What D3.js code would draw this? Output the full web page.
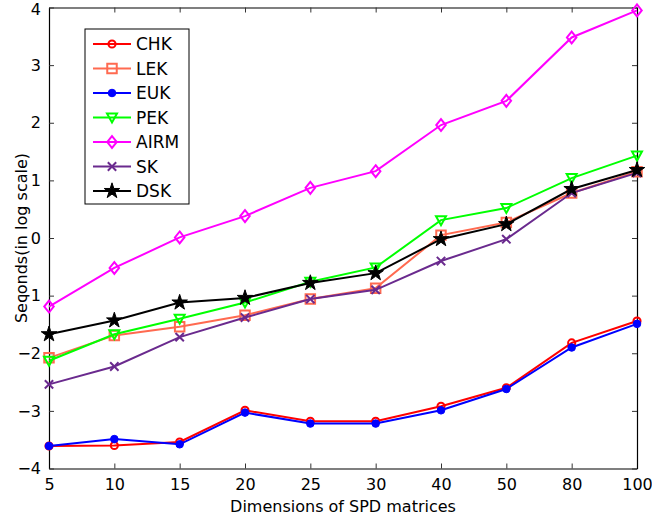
<!DOCTYPE html>
<html>
<head>
<meta charset="utf-8">
<script src="https://cdn.jsdelivr.net/npm/d3@7"></script>
<style>
  body { margin: 0; background: #fff; }
  svg { display: block; }
  text { font-family: "DejaVu Sans", sans-serif; fill: #000; }
</style>
</head>
<body>
<div id="graph"></div>
<script>
// data
const dims = ["5", "10", "15", "20", "25", "30", "40", "50", "80", "100"];
const yTicks = [-4, -3, -2, -1, 0, 1, 2, 3, 4];
const names = ["CHK", "LEK", "EUK", "PEK", "AIRM", "SK", "DSK"];
const chk  = [-3.61, -3.60, -3.54, -2.99, -3.18, -3.18, -2.92, -2.60, -1.82, -1.44];
const lek  = [-2.08, -1.69, -1.54, -1.34, -1.06, -0.87, 0.05, 0.27, 0.78, 1.15];
const euk  = [-3.61, -3.49, -3.58, -3.03, -3.22, -3.22, -2.99, -2.62, -1.90, -1.49];
const pek  = [-2.13, -1.67, -1.40, -1.12, -0.76, -0.51, 0.31, 0.52, 1.04, 1.43];
const airm = [-1.19, -0.52, 0.01, 0.38, 0.87, 1.16, 1.96, 2.38, 3.48, 3.95];
const sk   = [-2.54, -2.23, -1.72, -1.38, -1.06, -0.90, -0.40, -0.02, 0.78, 1.13];
const dsk  = [-1.67, -1.43, -1.12, -1.04, -0.78, -0.61, -0.02, 0.24, 0.85, 1.18];

const width = 652, height = 525;
const margin = {left: 49, right: 15, top: 7.5, bottom: 56.5};
const w = width - margin.left - margin.right;
const h = height - margin.top - margin.bottom;

// matlab-ish marker shapes that d3 doesn't have
const symDiamond = {
  draw(ctx, size) {
    const a = Math.sqrt(size) / 2;
    ctx.moveTo(0, -a * 1.25); ctx.lineTo(a, 0); ctx.lineTo(0, a * 1.25); ctx.lineTo(-a, 0); ctx.closePath();
  }
};
const symTimes = {
  draw(ctx, size) {
    const a = Math.sqrt(size) / 2;
    ctx.moveTo(-a, -a); ctx.lineTo(a, a); ctx.moveTo(a, -a); ctx.lineTo(-a, a);
  }
};
const symTriDown = {
  draw(ctx, size) {
    const a = Math.sqrt(size) / 2;
    ctx.moveTo(-a, -a * 0.8); ctx.lineTo(a, -a * 0.8); ctx.lineTo(0, a * 1.0); ctx.closePath();
  }
};

const series = [
  {name: names[0], values: chk,  color: "#ff0000", sym: d3.symbolCircle, size: 40,  fill: "none"},
  {name: names[1], values: lek,  color: "#ff6a50", sym: d3.symbolSquare, size: 90,  fill: "none"},
  {name: names[2], values: euk,  color: "#0000ff", sym: d3.symbolCircle, size: 45,  fill: "#0000ff"},
  {name: names[3], values: pek,  color: "#00ff00", sym: symTriDown,      size: 100, fill: "none"},
  {name: names[4], values: airm, color: "#ff00ff", sym: symDiamond,      size: 90,  fill: "none"},
  {name: names[5], values: sk,   color: "#6a2a8e", sym: symTimes,        size: 70,  fill: "none"},
  {name: names[6], values: dsk,  color: "#000000", sym: d3.symbolStar,   size: 75,  fill: "#000000"}
];

let svg = d3.select("#graph")
  .append("svg")
  .attr("width", width)
  .attr("height", height)
  .append("g")
  .attr("transform", `translate(${margin.left},${margin.top})`);

let x = d3.scalePoint().domain(dims).range([0, w]);
let y = d3.scaleLinear().domain([-4, 4]).range([h, 0]);

// axes, ticks pointing inward like matlab
svg.append("g")
  .attr("transform", `translate(0,${h})`)
  .call(d3.axisBottom(x).tickSizeInner(-5).tickSizeOuter(0).tickPadding(10))
  .call(g => g.selectAll("text").style("font-size", "16px").attr("dy", "0.71em"));
svg.append("g")
  .call(d3.axisTop(x).tickSizeInner(-5).tickSizeOuter(0).tickFormat(""));
svg.append("g")
  .call(d3.axisLeft(y).tickValues(yTicks).tickSizeInner(-5).tickSizeOuter(0).tickPadding(8))
  .call(g => g.selectAll("text").style("font-size", "16px")
    .attr("dy", d => d === 4 ? "0.45em" : "0.32em"));   // keep top label inside the page
svg.append("g")
  .attr("transform", `translate(${w},0)`)
  .call(d3.axisRight(y).tickValues(yTicks).tickSizeInner(-5).tickSizeOuter(0).tickFormat(""));
svg.selectAll(".domain").attr("stroke", "#000").attr("stroke-width", 1.2);
svg.selectAll(".tick line").attr("stroke", "#333");

// lines + markers
let line = d3.line().x((d, i) => x(dims[i])).y(d => y(d));
series.forEach(s => {
  svg.append("path")
    .datum(s.values)
    .attr("fill", "none")
    .attr("stroke", s.color)
    .attr("stroke-width", 2)
    .attr("d", line);
  svg.selectAll(null)
    .data(s.values)
    .enter()
    .append("path")
    .attr("transform", (d, i) => `translate(${x(dims[i])},${y(d)})`)
    .attr("d", d3.symbol().type(s.sym).size(s.size))
    .attr("fill", s.fill)
    .attr("stroke", s.color)
    .attr("stroke-width", s.fill === "none" ? 2 : 1);
});

// legend
let leg = svg.append("g").attr("transform", "translate(36,21.5)");
leg.append("rect")
  .attr("width", 104).attr("height", 175)
  .attr("fill", "#fff").attr("stroke", "#000").attr("stroke-width", 1);
series.forEach((s, i) => {
  let row = leg.append("g").attr("transform", `translate(0,${15 + i * 24.5})`);
  row.append("line")
    .attr("x1", 8).attr("x2", 46)
    .attr("stroke", s.color).attr("stroke-width", 2);
  row.append("path")
    .attr("transform", "translate(27,0)")
    .attr("d", d3.symbol().type(s.sym).size(s.size))
    .attr("fill", s.fill)
    .attr("stroke", s.color)
    .attr("stroke-width", s.fill === "none" ? 2 : 1);
  row.append("text")
    .attr("x", 51).attr("dy", "0.36em")
    .style("font-size", "17px")
    .text(s.name);
});

// axis labels
svg.append("text")
  .attr("transform", `translate(${w / 2},${h + 43})`)
  .style("text-anchor", "middle")
  .style("font-size", "16px")
  .text("Dimensions of SPD matrices");
svg.append("text")
  .attr("transform", `translate(-22,${h / 2}) rotate(-90)`)
  .style("text-anchor", "middle")
  .style("font-size", "16px")
  .text("Seconds(in log scale)");
</script>
</body>
</html>
